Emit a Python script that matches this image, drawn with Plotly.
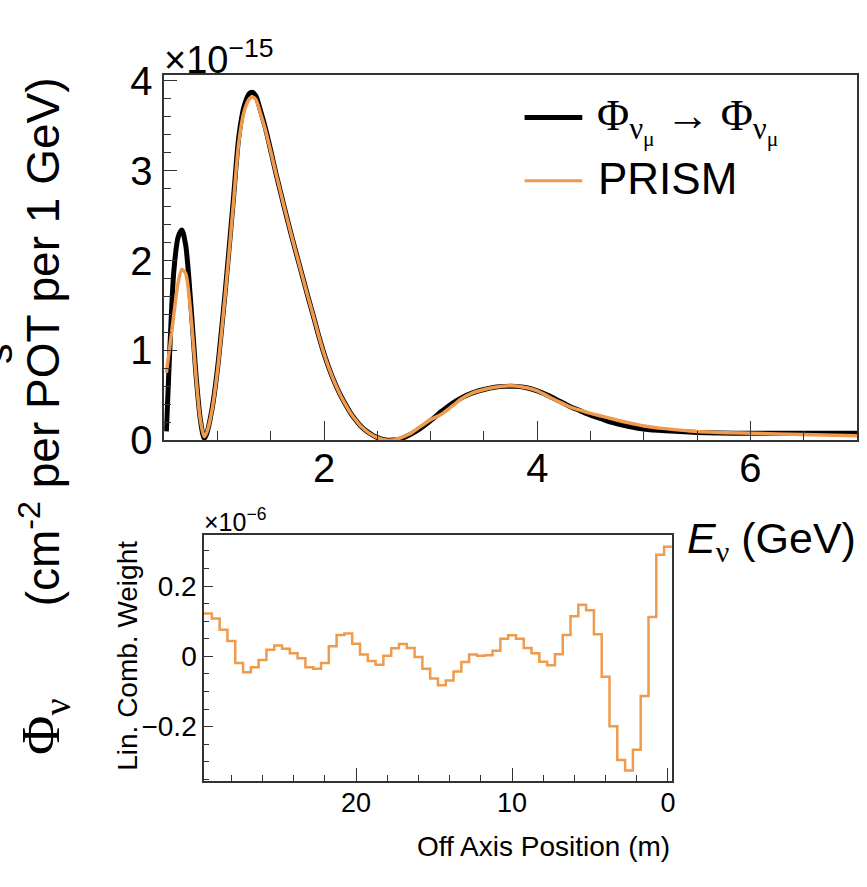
import plotly.graph_objects as go

W, H = 867, 887

# ---- top panel data (flux in units of 1e-15 cm^-2 per POT per 1 GeV) ----
energy_gev = [0.52, 0.55, 0.59, 0.63, 0.665, 0.70, 0.73, 0.77, 0.80, 0.84, 0.875, 0.90,
              0.95, 1.00, 1.05, 1.10, 1.15, 1.20, 1.25, 1.30, 1.33, 1.36, 1.40, 1.45,
              1.50, 1.55, 1.60, 1.65, 1.70, 1.75, 1.80, 1.85, 1.90, 1.95, 2.00, 2.05,
              2.10, 2.15, 2.20, 2.25, 2.30, 2.35, 2.40, 2.45, 2.50, 2.55, 2.60, 2.65,
              2.70, 2.80, 2.90, 3.00, 3.10, 3.20, 3.30, 3.40, 3.50, 3.60, 3.70, 3.80,
              3.90, 4.00, 4.10, 4.20, 4.30, 4.40, 4.50, 4.60, 4.70, 4.80, 4.90, 5.00,
              5.20, 5.50, 6.00, 6.50, 7.00]
flux_target = [0.10, 0.95, 1.88, 2.26, 2.34, 2.18, 1.82, 1.18, 0.70, 0.22, 0.02, 0.08,
               0.36, 0.80, 1.38, 2.02, 2.70, 3.38, 3.72, 3.86, 3.87, 3.83, 3.68, 3.47,
               3.22, 2.96, 2.72, 2.48, 2.25, 2.03, 1.81, 1.59, 1.38, 1.16, 0.96, 0.79,
               0.64, 0.51, 0.40, 0.30, 0.22, 0.15, 0.10, 0.06, 0.03, 0.01, 0.00, 0.003,
               0.01, 0.06, 0.13, 0.22, 0.32, 0.41, 0.48, 0.53, 0.565, 0.59, 0.60, 0.60,
               0.585, 0.55, 0.50, 0.44, 0.38, 0.33, 0.28, 0.24, 0.20, 0.17, 0.145, 0.125,
               0.105, 0.088, 0.078, 0.078, 0.078]
flux_prism = [0.75, 1.02, 1.40, 1.75, 1.90, 1.86, 1.64, 1.12, 0.68, 0.22, 0.04, 0.09,
              0.35, 0.78, 1.35, 1.98, 2.65, 3.32, 3.66, 3.80, 3.82, 3.79, 3.65, 3.45,
              3.21, 2.96, 2.72, 2.48, 2.25, 2.03, 1.81, 1.59, 1.38, 1.16, 0.96, 0.79,
              0.64, 0.51, 0.40, 0.30, 0.22, 0.15, 0.10, 0.06, 0.03, 0.01, 0.00, 0.005,
              0.02, 0.07, 0.15, 0.23, 0.29, 0.38, 0.47, 0.53, 0.565, 0.59, 0.605, 0.605,
              0.585, 0.55, 0.49, 0.43, 0.375, 0.335, 0.30, 0.27, 0.24, 0.21, 0.185, 0.16,
              0.13, 0.098, 0.078, 0.065, 0.052]

# ---- inset data (weights in units of 1e-6), bins of 0.5 m ----
off_axis_pos_m = [29.5, 29.0, 28.5, 28.0, 27.5, 27.0, 26.5, 26.0, 25.5, 25.0,
                  24.5, 24.0, 23.5, 23.0, 22.5, 22.0, 21.5, 21.0, 20.5, 20.0,
                  19.5, 19.0, 18.5, 18.0, 17.5, 17.0, 16.5, 16.0, 15.5, 15.0,
                  14.5, 14.0, 13.5, 13.0, 12.5, 12.0, 11.5, 11.0, 10.5, 10.0,
                  9.5, 9.0, 8.5, 8.0, 7.5, 7.0, 6.5, 6.0, 5.5, 5.0,
                  4.5, 4.0, 3.5, 3.0, 2.5, 2.0, 1.5, 1.0, 0.5, 0.0]
lin_comb_weight = [0.122, 0.108, 0.076, 0.044, -0.019, -0.045, -0.031, -0.010, 0.019, 0.031,
                   0.022, 0.009, -0.005, -0.031, -0.035, -0.019, 0.029, 0.061, 0.065, 0.036,
                   0.005, -0.013, -0.024, 0.002, 0.023, 0.035, 0.024, -0.002, -0.035, -0.063,
                   -0.082, -0.069, -0.043, -0.016, 0.005, 0.002, 0.003, 0.016, 0.050, 0.060,
                   0.050, 0.024, 0.009, -0.015, -0.025, 0.006, 0.061, 0.114, 0.147, 0.131,
                   0.063, -0.058, -0.199, -0.295, -0.325, -0.266, -0.113, 0.112, 0.289, 0.312]
bin_width_m = 0.5

ORANGE = "#EF9A4C"
SANS = "Liberation Sans"
SERIF = "Liberation Serif"

def px(x):
    return x / W

def py(y):
    return 1 - y / H

fig = go.Figure()
fig.add_trace(go.Scatter(x=energy_gev, y=flux_target, mode="lines", name="target",
                         line=dict(color="black", width=5, shape="spline", smoothing=0.8),
                         xaxis="x", yaxis="y", showlegend=False))
fig.add_trace(go.Scatter(x=energy_gev, y=flux_prism, mode="lines", name="PRISM",
                         line=dict(color=ORANGE, width=3.5, shape="spline", smoothing=0.8),
                         xaxis="x", yaxis="y", showlegend=False))

step_x = [c + bin_width_m / 2 for c in off_axis_pos_m] + [off_axis_pos_m[-1] - bin_width_m / 2]
step_y = lin_comb_weight + [lin_comb_weight[-1]]
fig.add_trace(go.Scatter(x=step_x, y=step_y, mode="lines", line=dict(color=ORANGE, width=2.5, shape="hv"),
                         xaxis="x2", yaxis="y2", showlegend=False))

axis_common = dict(showgrid=False, zeroline=False, showline=True, linecolor="#333333", linewidth=1.5,
                   mirror=True, ticks="inside", tickcolor="#333333", tickwidth=1.2)

fig.update_layout(
    width=W, height=H, margin=dict(l=0, r=0, t=0, b=0),
    paper_bgcolor="white", plot_bgcolor="white", showlegend=False,
    font=dict(family=SANS, color="black"),
    xaxis=dict(domain=[px(165), px(861)], range=[0.5, 7.0], dtick=2, tick0=0, ticklen=20,
               minor=dict(dtick=0.5, tick0=0, ticklen=10, ticks="inside", tickcolor="#333333"),
               tickfont=dict(size=40, family=SANS), ticklabelstandoff=-8, anchor="y", **axis_common),
    yaxis=dict(domain=[py(443.3), py(62)], range=[0, 4.06], dtick=1, tick0=0, ticklen=13,
               minor=dict(dtick=0.2, tick0=0, ticklen=7, ticks="inside", tickcolor="#333333"),
               tickfont=dict(size=40, family=SANS), ticklabelstandoff=2, anchor="x", **axis_common),
    xaxis2=dict(domain=[px(205), px(675)], range=[29.75, -0.25], dtick=10, tick0=0, ticklen=13,
                minor=dict(dtick=2, tick0=0, ticklen=6, ticks="inside", tickcolor="#333333"),
                tickfont=dict(size=27, family=SANS), ticklabelstandoff=-3, anchor="y2", **axis_common),
    yaxis2=dict(domain=[py(799), py(542)], range=[-0.354, 0.346], dtick=0.2, tick0=0, ticklen=9,
                minor=dict(dtick=0.05, tick0=0, ticklen=5, ticks="inside", tickcolor="#333333"),
                tickfont=dict(size=28, family=SANS), ticklabelstandoff=0, anchor="x2", **axis_common),
)

EM = "\u2003"
ann = []
ann.append(dict(text="×10<sup>−15</sup>", x=px(163), y=py(70), xanchor="left", yanchor="bottom",
                font=dict(size=38, family=SANS)))
ann.append(dict(text="×10<sup>−6</sup>", x=px(203), y=py(545), xanchor="left", yanchor="bottom",
                font=dict(size=25, family=SANS)))
ann.append(dict(text=(f'<span style="font-family:{SERIF};font-size:54px">Φ<sub>ν</sub></span>'
                      f'{EM}{EM}(cm<sup>-2</sup> per POT per 1 GeV)'),
                x=px(45), y=py(418), xanchor="center", yanchor="middle", textangle=-90,
                font=dict(size=46, family=SANS)))
ann.append(dict(text="s", x=px(-2), y=py(353), xanchor="center", yanchor="middle", textangle=-90,
                font=dict(size=41, family=SANS)))
ann.append(dict(text=f'<i>E</i><span style="font-family:{SERIF}"><sub>ν</sub></span> (GeV)',
                x=px(862), y=py(549), xanchor="right", yanchor="middle", font=dict(size=43, family=SANS)))
ann.append(dict(text="Lin. Comb. Weight", x=px(128), y=py(668), xanchor="center", yanchor="middle",
                textangle=-90, font=dict(size=28, family=SANS)))
ann.append(dict(text="Off Axis Position (m)", x=px(675), y=py(868), xanchor="right", yanchor="middle",
                font=dict(size=28, family=SANS)))
ann.append(dict(text=f'<span style="font-family:{SERIF}">Φ<sub>ν<sub>μ</sub></sub> → Φ<sub>ν<sub>μ</sub></sub></span>',
                x=px(598), y=py(110), xanchor="left", yanchor="middle", font=dict(size=44, family=SERIF)))
ann.append(dict(text="PRISM", x=px(599), y=py(170), xanchor="left", yanchor="middle",
                font=dict(size=44, family=SANS)))
for a in ann:
    a.update(xref="paper", yref="paper", showarrow=False)
fig.update_layout(annotations=ann)

fig.update_layout(shapes=[
    dict(type="line", xref="paper", yref="paper", x0=px(527), x1=px(585), y0=py(106), y1=py(106),
         line=dict(color="black", width=5)),
    dict(type="line", xref="paper", yref="paper", x0=px(527), x1=px(585), y0=py(172), y1=py(172),
         line=dict(color=ORANGE, width=3)),
])

fig.write_html("out.html")
